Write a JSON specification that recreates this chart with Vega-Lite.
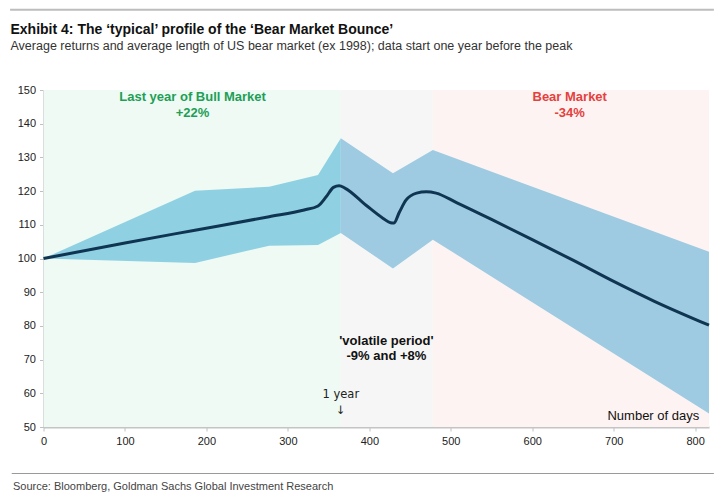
{
  "$schema": "https://vega.github.io/schema/vega-lite/v6.json",
  "autosize": {"type": "none"},
  "width": 665.5,
  "height": 337,
  "padding": {"left": 43.5, "top": 90, "right": 11, "bottom": 67},
  "background": "white",
  "config": {
    "view": {"stroke": null},
    "font": "Liberation Sans",
    "axisY": {"labelOverlap": false, "labelSeparation": 0}
  },
  "title": {
    "text": "Exhibit 4: The ‘typical’ profile of the ‘Bear Market Bounce’",
    "subtitle": "Average returns and average length of US bear market (ex 1998); data start one year before the peak",
    "anchor": "start",
    "frame": "group",
    "dx": -33,
    "offset": -44,
    "font": "Liberation Sans",
    "fontSize": 14,
    "fontWeight": "bold",
    "color": "#111111",
    "subtitleFont": "Liberation Sans",
    "subtitleFontSize": 12.5,
    "subtitleColor": "#333333",
    "subtitlePadding": 3
  },
  "resolve": {"scale": {"color": "independent"}},
  "datasets": {
    "bg": [
      {"start": 0, "end": 365, "region": "bull"},
      {"start": 365, "end": 478, "region": "vol"},
      {"start": 478, "end": 817, "region": "bear"}
    ],
    "band": [
      {"day": 0, "low": 100, "high": 100, "seg": "pre"},
      {"day": 186, "low": 98.7, "high": 120.1, "seg": "pre"},
      {"day": 277, "low": 103.8, "high": 121.3, "seg": "pre"},
      {"day": 337, "low": 104, "high": 124.8, "seg": "pre"},
      {"day": 365, "low": 107.6, "high": 135.7, "seg": "pre"},
      {"day": 365, "low": 107.6, "high": 135.7, "seg": "post"},
      {"day": 429, "low": 97.0, "high": 125.3, "seg": "post"},
      {"day": 478, "low": 105.6, "high": 132.2, "seg": "post"},
      {"day": 817, "low": 54.0, "high": 102.0, "seg": "post"}
    ],
    "avg": [
      {"day": 0, "value": 100},
      {"day": 100, "value": 104.6},
      {"day": 186, "value": 108.4},
      {"day": 277, "value": 112.4},
      {"day": 320, "value": 114.4},
      {"day": 337, "value": 115.6},
      {"day": 347, "value": 118.3},
      {"day": 356, "value": 121.1},
      {"day": 363, "value": 121.6},
      {"day": 370, "value": 120.9},
      {"day": 396, "value": 115.8},
      {"day": 417, "value": 111.9},
      {"day": 426, "value": 110.6},
      {"day": 430, "value": 110.5},
      {"day": 437, "value": 113.8},
      {"day": 445, "value": 117.3},
      {"day": 458, "value": 119.4},
      {"day": 470, "value": 119.8},
      {"day": 482, "value": 119.4},
      {"day": 507, "value": 116.6},
      {"day": 550, "value": 111.6},
      {"day": 600, "value": 105.6},
      {"day": 650, "value": 99.5},
      {"day": 700, "value": 93.2},
      {"day": 750, "value": 87.3},
      {"day": 817, "value": 80.2}
    ],
    "boldLabels": [
      {"day": 183, "value": 148.0, "text": "Last year of Bull Market", "group": "bull"},
      {"day": 183, "value": 143.3, "text": "+22%", "group": "bull"},
      {"day": 646, "value": 148.0, "text": "Bear Market", "group": "bear"},
      {"day": 646, "value": 143.3, "text": "-34%", "group": "bear"},
      {"day": 421, "value": 75.5, "text": "'volatile period'", "group": "vol"},
      {"day": 421, "value": 71.0, "text": "-9% and +8%", "group": "vol"}
    ],
    "notes": [
      {"day": 365, "value": 59.4, "text": "1 year"},
      {"day": 365, "value": 54.8, "text": "↓"}
    ],
    "xlabel": [
      {"day": 805, "value": 53.2, "text": "Number of days"}
    ],
    "one": [{}]
  },
  "layer": [
    {
      "data": {"name": "bg"},
      "mark": {"type": "rect"},
      "encoding": {
        "x": {"field": "start", "type": "quantitative", "scale": {"domain": [0, 817], "nice": false, "zero": false},
          "axis": {
            "values": [0, 100, 200, 300, 400, 500, 600, 700, 800],
            "title": "Source: Bloomberg, Goldman Sachs Global Investment Research",
            "titleAnchor": "start",
            "titleX": -31,
            "titleY": 62,
            "titleFont": "Liberation Sans",
            "titleFontSize": 11,
            "titleFontWeight": "normal",
            "titleColor": "#444444",
            "titleBaseline": "alphabetic",
            "labelFontSize": 11,
            "labelColor": "#222222",
            "labelPadding": 4,
            "labelOverlap": false,
            "tickSize": 4,
            "tickColor": "#c0c0c0",
            "domainColor": "#c4c4c4",
            "domainWidth": 2,
            "grid": false,
            "labelFlush": false
          }},
        "x2": {"field": "end"},
        "color": {"field": "region", "type": "nominal", "legend": null,
          "scale": {"domain": ["bull", "vol", "bear"], "range": ["#eefaf3", "#f6f6f6", "#fdf3f2"]}}
      }
    },
    {
      "data": {"name": "band"},
      "mark": {"type": "area", "interpolate": "linear", "opacity": 1},
      "encoding": {
        "x": {"field": "day", "type": "quantitative"},
        "y": {"field": "low", "type": "quantitative", "scale": {"domain": [50, 150], "nice": false, "zero": false},
          "axis": {"values": [50, 60, 70, 80, 90, 100, 110, 120, 130, 140, 150], "title": null, "labelFontSize": 11, "labelColor": "#222222", "labelPadding": 4, "labelOverlap": false, "tickSize": 4, "tickColor": "#c0c0c0", "domainColor": "#c4c4c4", "domainWidth": 2, "grid": false}},
        "y2": {"field": "high"},
        "color": {"field": "seg", "type": "nominal", "legend": null,
          "scale": {"domain": ["pre", "post"], "range": ["#8fd1e2", "#9ecbe1"]}}
      }
    },
    {
      "data": {"name": "avg"},
      "mark": {"type": "line", "interpolate": "monotone", "color": "#0f3553", "strokeWidth": 3},
      "encoding": {
        "x": {"field": "day", "type": "quantitative"},
        "y": {"field": "value", "type": "quantitative",
          "axis": {"values": [50, 60, 70, 80, 90, 100, 110, 120, 130, 140, 150], "title": null, "labelFontSize": 11, "labelColor": "#222222", "labelPadding": 4, "labelOverlap": false, "tickSize": 4, "tickColor": "#c0c0c0", "domainColor": "#c4c4c4", "domainWidth": 2, "grid": false}}
      }
    },
    {
      "data": {"name": "boldLabels"},
      "mark": {"type": "text", "fontWeight": "bold", "fontSize": 13, "align": "center", "baseline": "middle", "font": "Liberation Sans"},
      "encoding": {
        "x": {"field": "day", "type": "quantitative"},
        "y": {"field": "value", "type": "quantitative",
          "axis": {"values": [50, 60, 70, 80, 90, 100, 110, 120, 130, 140, 150], "title": null, "labelFontSize": 11, "labelColor": "#222222", "labelPadding": 4, "labelOverlap": false, "tickSize": 4, "tickColor": "#c0c0c0", "domainColor": "#c4c4c4", "domainWidth": 2, "grid": false}},
        "text": {"field": "text"},
        "color": {"field": "group", "type": "nominal", "legend": null,
          "scale": {"domain": ["bull", "bear", "vol"], "range": ["#1e9e57", "#e4403d", "#111111"]}}
      }
    },
    {
      "data": {"name": "notes"},
      "mark": {"type": "text", "fontSize": 11.5, "align": "center", "baseline": "middle", "color": "#222222", "font": "DejaVu Sans"},
      "encoding": {
        "x": {"field": "day", "type": "quantitative"},
        "y": {"field": "value", "type": "quantitative",
          "axis": {"values": [50, 60, 70, 80, 90, 100, 110, 120, 130, 140, 150], "title": null, "labelFontSize": 11, "labelColor": "#222222", "labelPadding": 4, "labelOverlap": false, "tickSize": 4, "tickColor": "#c0c0c0", "domainColor": "#c4c4c4", "domainWidth": 2, "grid": false}},
        "text": {"field": "text"}
      }
    },
    {
      "data": {"name": "xlabel"},
      "mark": {"type": "text", "fontSize": 13, "align": "right", "baseline": "middle", "color": "#111111"},
      "encoding": {
        "x": {"field": "day", "type": "quantitative"},
        "y": {"field": "value", "type": "quantitative",
          "axis": {"values": [50, 60, 70, 80, 90, 100, 110, 120, 130, 140, 150], "title": null, "labelFontSize": 11, "labelColor": "#222222", "labelPadding": 4, "labelOverlap": false, "tickSize": 4, "tickColor": "#c0c0c0", "domainColor": "#c4c4c4", "domainWidth": 2, "grid": false}},
        "text": {"field": "text"}
      }
    },
    {
      "data": {"name": "one"},
      "mark": {"type": "rule", "color": "#bdbdbd", "strokeWidth": 2},
      "encoding": {
        "x": {"datum": -41},
        "x2": {"datum": 823},
        "y": {"datum": 173.8, "type": "quantitative",
          "axis": {"values": [50, 60, 70, 80, 90, 100, 110, 120, 130, 140, 150], "title": null, "labelFontSize": 11, "labelColor": "#222222", "labelPadding": 4, "labelOverlap": false, "tickSize": 4, "tickColor": "#c0c0c0", "domainColor": "#c4c4c4", "domainWidth": 2, "grid": false}}
      }
    },
    {
      "data": {"name": "one"},
      "mark": {"type": "rule", "color": "#9a9a9a", "strokeWidth": 1},
      "encoding": {
        "x": {"datum": -39},
        "x2": {"datum": 823},
        "y": {"datum": 36.2, "type": "quantitative",
          "axis": {"values": [50, 60, 70, 80, 90, 100, 110, 120, 130, 140, 150], "title": null, "labelFontSize": 11, "labelColor": "#222222", "labelPadding": 4, "labelOverlap": false, "tickSize": 4, "tickColor": "#c0c0c0", "domainColor": "#c4c4c4", "domainWidth": 2, "grid": false}}
      }
    }
  ]
}
